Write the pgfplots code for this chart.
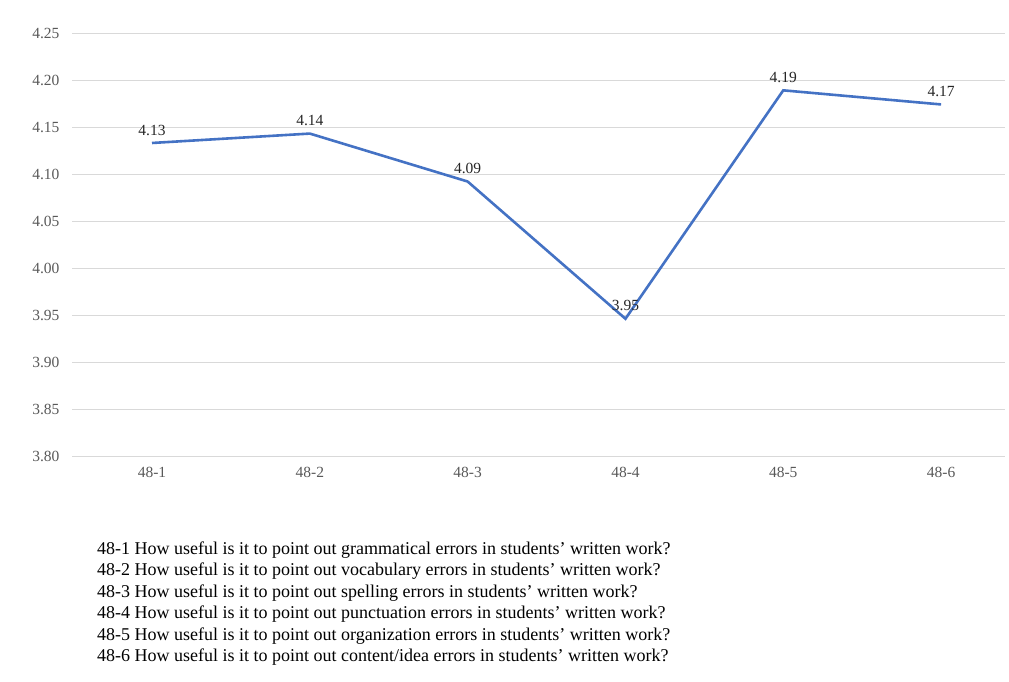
\documentclass[border=0pt]{standalone}
\usepackage{fontspec}
\setmainfont{Liberation Serif}
\usepackage{pgfplots}
\pgfplotsset{compat=1.18}
\definecolor{lineblue}{HTML}{4472C4}
\definecolor{gridgray}{HTML}{D9D9D9}
\definecolor{ticktext}{HTML}{595959}
\begin{document}
\begin{tikzpicture}[x=1pt,y=1pt]
\useasboundingbox (0,0) rectangle (1009,681);
\begin{axis}[
  at={(72pt,225pt)}, anchor=south west,
  scale only axis, width=933pt, height=423pt,
  xmin=-0.507, xmax=5.405, ymin=3.80, ymax=4.25,
  xtick={0,1,2,3,4,5},
  xticklabels={48-1,48-2,48-3,48-4,48-5,48-6},
  ytick={3.80,3.85,3.90,3.95,4.00,4.05,4.10,4.15,4.20,4.25},
  y tick label style={/pgf/number format/fixed, /pgf/number format/fixed zerofill, /pgf/number format/precision=2, xshift=-9pt},
  /pgf/number format/assume math mode=true,
  ymajorgrids,
  major grid style={draw=gridgray, line width=1pt},
  axis line style={draw=none},
  major tick length=0pt,
  tick label style={font=\fontsize{15.5}{17}\selectfont, text=ticktext},
  x tick label style={yshift=-8pt},
  clip=false,
  nodes near coords,
  point meta=explicit symbolic,
  every node near coord/.append style={font=\fontsize{15.5}{17}\selectfont, text=black!85, yshift=3pt},
]
\addplot[color=lineblue, line width=2.6pt, mark=none] table[x=x, y=y, meta=lab] {
x y lab
0 4.133 4.13
1 4.143 4.14
2 4.092 4.09
3 3.946 3.95
4 4.189 4.19
5 4.174 4.17
};
\end{axis}
\begin{scope}[every node/.style={anchor=west, inner sep=0pt, font=\fontsize{18}{21}\selectfont}]
\node at (97,131) {48-1 How useful is it to point out grammatical errors in students’ written work?};
\node at (97,109.5) {48-2 How useful is it to point out vocabulary errors in students’ written work?};
\node at (97,88) {48-3 How useful is it to point out spelling errors in students’ written work?};
\node at (97,66.5) {48-4 How useful is it to point out punctuation errors in students’ written work?};
\node at (97,45) {48-5 How useful is it to point out organization errors in students’ written work?};
\node at (97,23.5) {48-6 How useful is it to point out content/idea errors in students’ written work?};
\end{scope}
\end{tikzpicture}
\end{document}
